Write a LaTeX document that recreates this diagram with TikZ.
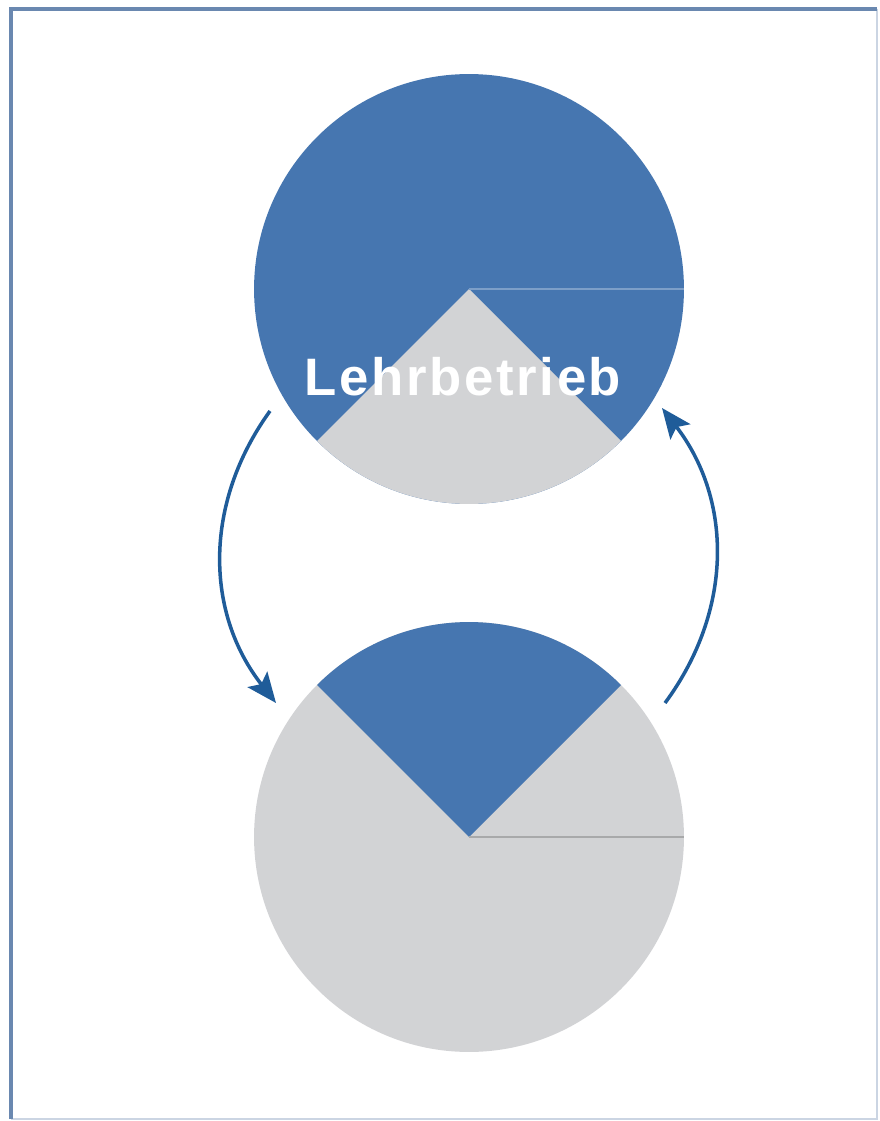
\documentclass[tikz,border=0pt]{standalone}
\usepackage{fontspec}
\setmainfont{Liberation Sans}
\usetikzlibrary{positioning}
\usetikzlibrary{arrows.meta}
\definecolor{lehrblue}{HTML}{4676B0}
\definecolor{lehrgray}{HTML}{D2D3D5}
\definecolor{darrow}{HTML}{1F5C99}
\definecolor{framebl}{HTML}{6A88B0}

\begin{document}
\begin{tikzpicture}
		[x=0.02cm, y=-0.02cm,
		disc/.style={circle, inner sep=0pt, minimum size=8.6cm},
		cycle/.style={draw=darrow, line width=2pt, -{Stealth[length=0.6cm, width=0.5cm, inset=0.12cm]}}]
		\useasboundingbox (0,0) rectangle (879,1121);
		% frame
		\draw[framebl!35, line width=1.2pt] (877,9) -- (877,1119) -- (11,1119);
		\draw[framebl, line width=1.8pt] (11,1119) -- (11,9) -- (877,9);

		\node[disc, fill=lehrblue] (upper) at (469,289) {};
		\node[disc, fill=lehrgray] (lower) at (469,837) {};

		% wedges
		\fill[lehrgray] (upper.center) -- ++(-135:4.3cm) arc[start angle=-135, end angle=-45, radius=4.3cm] -- cycle;
		\draw[lehrblue!70!white, line width=0.8pt] (upper.center) -- (upper.east);
		\fill[lehrblue] (lower.center) -- ++(45:4.3cm) arc[start angle=45, end angle=135, radius=4.3cm] -- cycle;
		\draw[lehrgray!80!black, line width=0.8pt] (lower.center) -- (lower.east);

		\node[text=white, font=\addfontfeatures{LetterSpace=5}\bfseries\fontsize{30}{30}\selectfont] (label) at (463,377) {Lehrbetrieb};

		\coordinate (a1) at (270,411);
		\coordinate (a2) at (276,703);
		\coordinate (b1) at (665,703);
		\coordinate (b2) at (662,408);
		\draw[cycle] (a1) to[bend right=37] (a2);
		\draw[cycle] (b1) to[bend right=37] (b2);
	\end{tikzpicture}
\end{document}
